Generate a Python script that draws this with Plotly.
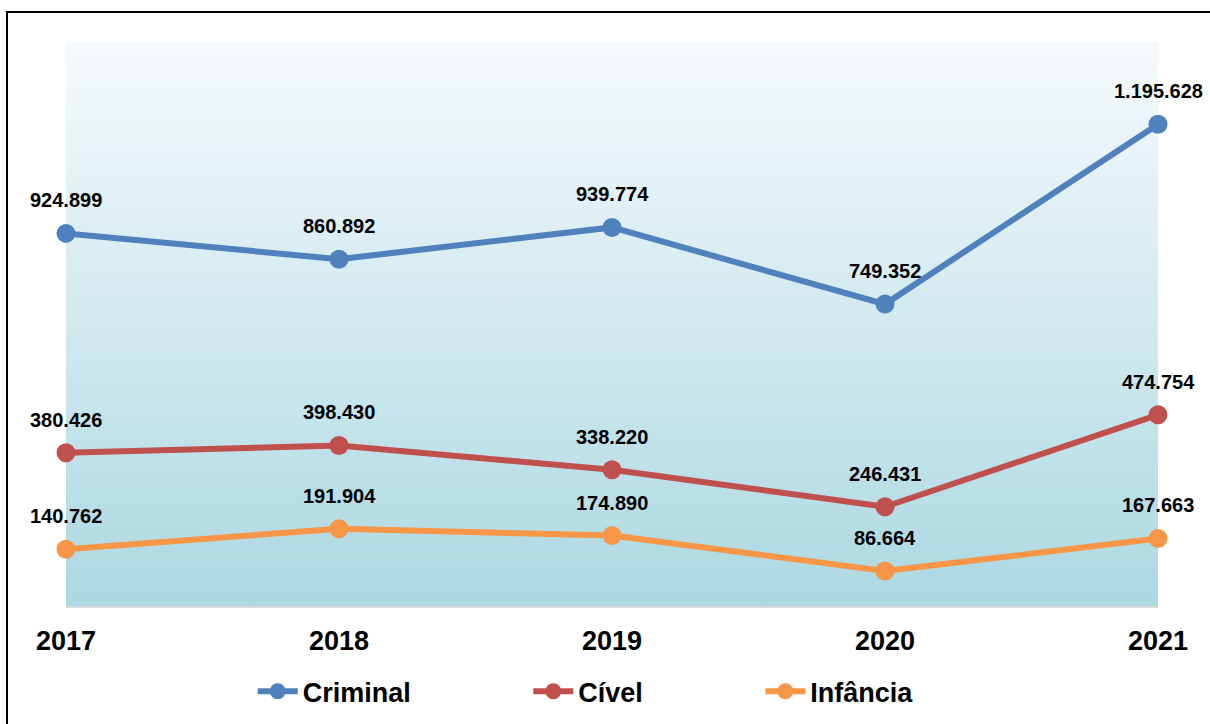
import plotly.graph_objects as go

years = [2017, 2018, 2019, 2020, 2021]
criminal = [924899, 860892, 939774, 749352, 1195628]
civel = [380426, 398430, 338220, 246431, 474754]
infancia = [140762, 191904, 174890, 86664, 167663]

series = [
    ("Criminal", criminal, "#4f81bd"),
    ("Cível", civel, "#c0504d"),
    ("Infância", infancia, "#f79646"),
]

y_max = 1400000
legend_pad = "\u00a0" * 15


def fmt(v):
    return f"{v:,}".replace(",", ".")


fig = go.Figure()

# gradient-filled plotting area
fig.add_trace(go.Scatter(
    x=[years[0], years[-1], years[-1], years[0], years[0]],
    y=[0, 0, y_max, y_max, 0],
    mode="none",
    fill="toself",
    fillgradient=dict(type="vertical",
                      colorscale=[[0, "#acd8e2"], [1, "#f6fafc"]]),
    showlegend=False,
    hoverinfo="skip",
))

annotations = []
for i, (name, vals, color) in enumerate(series):
    fig.add_trace(go.Scatter(
        x=years, y=vals,
        name=name + (legend_pad if i < len(series) - 1 else ""),
        mode="lines+markers",
        line=dict(color=color, width=6),
        marker=dict(color=color, size=19),
        cliponaxis=False,
    ))
    for x, v in zip(years, vals):
        annotations.append(dict(
            x=x, y=v, text=f"<b>{fmt(v)}</b>", showarrow=False,
            yshift=33, font=dict(family="Arial", size=20, color="black"),
        ))

fig.update_layout(
    width=1210, height=724,
    margin=dict(l=66, r=52, t=42, b=118, autoexpand=False),
    paper_bgcolor="white",
    plot_bgcolor="white",
    annotations=annotations,
    showlegend=True,
    legend=dict(orientation="h", x=0.171, xanchor="left", y=-0.152,
                yanchor="middle",
                font=dict(family="Arial", size=27, color="black", weight="bold"),
                itemwidth=40, traceorder="normal"),
    shapes=[dict(type="rect", xref="paper", yref="paper",
                 x0=(7 - 66) / 1092, x1=(1220 - 66) / 1092,
                 y0=(606 - 740) / 564, y1=(606 - 12) / 564,
                 line=dict(color="black", width=2), layer="below")],
)

fig.update_xaxes(
    range=[years[0], years[-1]], tickvals=years,
    tickfont=dict(family="Arial", size=27, color="black", weight="bold"),
    ticks="outside", ticklen=10, tickcolor="rgba(0,0,0,0)",
    showgrid=False, zeroline=False,
    showline=True, linecolor="#d9d9d9", linewidth=2,
)
fig.update_yaxes(range=[0, y_max], visible=False, showgrid=False)

fig.write_html("out.html")
